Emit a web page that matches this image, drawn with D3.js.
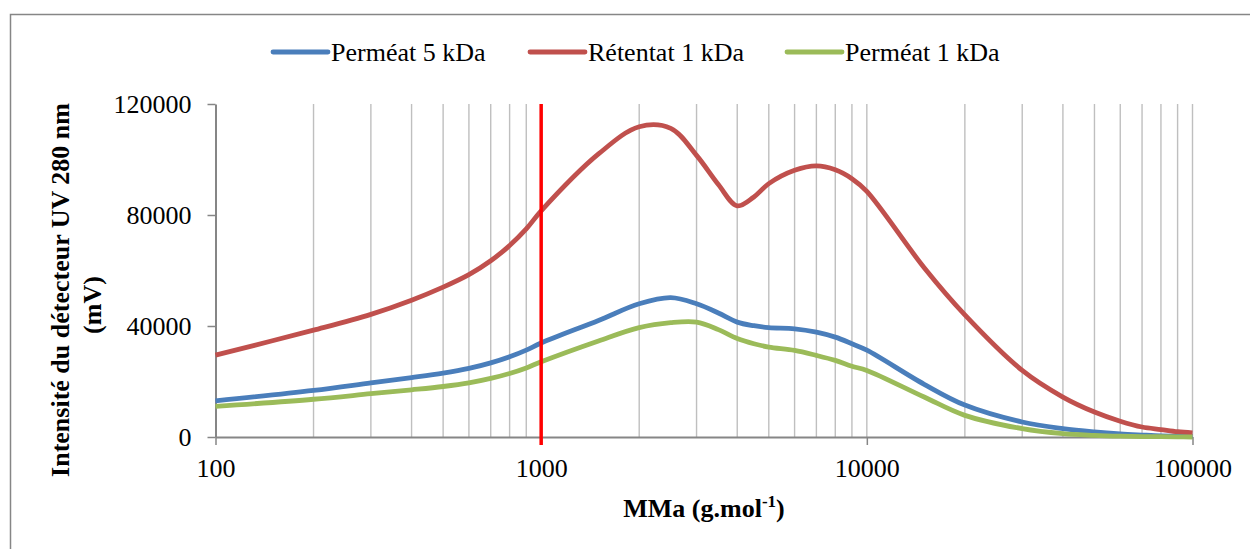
<!DOCTYPE html>
<html>
<head>
<meta charset="utf-8">
<script src="https://cdn.jsdelivr.net/npm/d3@7"></script>
<style>
    body { margin: 0; background: #fff; }
    svg { display: block; font-family: "Liberation Serif", "Times New Roman", serif; }
</style>
</head>
<body>
<svg id="chart" width="1250" height="549"></svg>
<script>
/*-------------------------------------------------------*/
/*------------------------ Data -------------------------*/
/*-------------------------------------------------------*/
// molar masses (g/mol)
const masses = [100, 200, 300, 400, 500, 600, 700, 800, 900, 1000,
    1500, 2000, 2500, 3000, 3500, 4000, 4500, 5000, 6000, 7000, 8000, 9000, 10000,
    15000, 20000, 30000, 40000, 50000, 60000, 70000, 80000, 90000, 100000];

// Perméat 5 kDa
const permeat5 = [13000, 16800, 19500, 21400, 23000, 24700, 26700, 28900, 31300, 33900,
    42000, 48000, 50200, 48000, 44700, 41400, 40100, 39400, 39000, 37800, 36000, 33600, 31300,
    19000, 11500, 5400, 3000, 1800, 1100, 700, 400, 300, 200];

// Rétentat 1 kDa
const retentat1 = [29500, 38500, 44200, 49300, 54000, 58500, 63500, 69000, 75000, 81500,
    102000, 111800, 111200, 101500, 91000, 83300, 86500, 91300, 96100, 97700, 96300, 93100, 88500,
    61000, 44000, 24000, 14400, 9000, 5700, 3600, 2700, 1900, 1500];

// Perméat 1 kDa
const permeat1 = [11000, 13600, 15600, 17000, 18200, 19500, 21100, 22900, 24900, 27100,
    34600, 39400, 41200, 41400, 38700, 35500, 33600, 32400, 31200, 29400, 27600, 25500, 24000,
    14400, 7800, 3000, 1200, 600, 300, 150, 100, 50, 0];

const seriesNames = ["Perméat 5 kDa", "Rétentat 1 kDa", "Perméat 1 kDa"];
const seriesColors = ["#4a7ebb", "#c0504d", "#9bbb59"];

const xTicks = [100, 1000, 10000, 100000];
const yTicks = [0, 40000, 80000, 120000];
const cutoff = 1000; // red marker line

/*-------------------------------------------------------*/
/*----------------------- Layout ------------------------*/
/*-------------------------------------------------------*/
const plot = { left: 215.5, right: 1192.5, top: 104, bottom: 437 };
const axisColor = "#868686";
const gridColor = "#bfbfbf";
const fontSize = 26;

const svg = d3.select("#chart");

// outer chart frame (right/bottom edges fall outside the picture)
svg.append("rect")
    .attr("x", 10.5).attr("y", 14.5)
    .attr("width", 1300).attr("height", 600)
    .attr("fill", "none")
    .attr("stroke", axisColor)
    .attr("stroke-width", 1.5);

/*-------------------------------------------------------*/
/*----------------------- Scales ------------------------*/
/*-------------------------------------------------------*/
const x = d3.scaleLog()
    .domain([100, 100000])
    .range([plot.left, plot.right]);

const y = d3.scaleLinear()
    .domain([0, 120000])
    .range([plot.bottom, plot.top]);

// vertical gridlines at every log tick except the axis itself
const gridValues = x.ticks().filter(v => v > 100);

svg.append("g")
    .selectAll("line")
    .data(gridValues)
    .enter()
    .append("line")
    .attr("x1", d => x(d)).attr("x2", d => x(d))
    .attr("y1", plot.top).attr("y2", plot.bottom)
    .attr("stroke", gridColor)
    .attr("stroke-width", 1.4);

/*-------------------------------------------------------*/
/*------------------------ Axes -------------------------*/
/*-------------------------------------------------------*/
const xAxis = d3.axisBottom(x)
    .tickValues(xTicks)
    .tickFormat(d3.format("d"))
    .tickSizeInner(8)
    .tickSizeOuter(0)
    .tickPadding(14);

const gx = svg.append("g")
    .attr("transform", `translate(0,${plot.bottom})`)
    .call(xAxis);

const yAxis = d3.axisLeft(y)
    .tickValues(yTicks)
    .tickFormat(d3.format("d"))
    .tickSizeInner(8)
    .tickSizeOuter(0)
    .tickPadding(16);

const gy = svg.append("g")
    .attr("transform", `translate(${plot.left},0)`)
    .call(yAxis);

[gx, gy].forEach(g => {
    g.select(".domain").attr("stroke", axisColor).attr("stroke-width", 2);
    g.selectAll(".tick line").attr("stroke", axisColor).attr("stroke-width", 1.5);
    g.selectAll(".tick text")
        .attr("fill", "#000")
        .style("font-family", "'Liberation Serif', 'Times New Roman', serif")
        .style("font-size", fontSize + "px");
});

/*-------------------------------------------------------*/
/*----------------------- Curves ------------------------*/
/*-------------------------------------------------------*/
const allSeries = [permeat5, retentat1, permeat1];

const line = d3.line()
    .x(d => x(d[0]))
    .y(d => y(d[1]))
    .curve(d3.curveCatmullRom.alpha(0.5));

svg.append("g")
    .selectAll("path")
    .data(allSeries)
    .enter()
    .append("path")
    .attr("d", vals => line(masses.map((m, i) => [m, vals[i]])))
    .attr("fill", "none")
    .attr("stroke", (d, i) => seriesColors[i])
    .attr("stroke-width", 4.8)
    .attr("stroke-linejoin", "round");

// red cut-off marker at 1 kDa
svg.append("line")
    .attr("x1", x(cutoff)).attr("x2", x(cutoff))
    .attr("y1", plot.top).attr("y2", plot.bottom + 8)
    .attr("stroke", "#ff0000")
    .attr("stroke-width", 3.5);

/*-------------------------------------------------------*/
/*----------------------- Legend ------------------------*/
/*-------------------------------------------------------*/
const legendX = [273, 530, 787];
const legend = svg.append("g");

seriesNames.forEach((name, i) => {
    legend.append("line")
        .attr("x1", legendX[i]).attr("x2", legendX[i] + 55)
        .attr("y1", 52).attr("y2", 52)
        .attr("stroke", seriesColors[i])
        .attr("stroke-width", 4.8)
        .attr("stroke-linecap", "round");
    legend.append("text")
        .attr("x", legendX[i] + 58)
        .attr("y", 61)
        .style("font-size", fontSize + "px")
        .text(name);
});

/*-------------------------------------------------------*/
/*-------------------- Axis titles ----------------------*/
/*-------------------------------------------------------*/
const xTitle = svg.append("text")
    .attr("x", 704)
    .attr("y", 517)
    .attr("text-anchor", "middle")
    .style("font-size", fontSize + "px")
    .style("font-weight", "bold");
xTitle.append("tspan").text("MMa (g.mol");
xTitle.append("tspan").attr("dy", -10).style("font-size", "17px").text("-1");
xTitle.append("tspan").attr("dy", 10).text(")");

svg.append("text")
    .attr("transform", "translate(69,290) rotate(-90)")
    .attr("text-anchor", "middle")
    .style("font-size", fontSize + "px")
    .style("font-weight", "bold")
    .text("Intensité du détecteur UV 280 nm");

svg.append("text")
    .attr("transform", "translate(101,305) rotate(-90)")
    .attr("text-anchor", "middle")
    .style("font-size", fontSize + "px")
    .style("font-weight", "bold")
    .text("(mV)");
</script>
</body>
</html>
